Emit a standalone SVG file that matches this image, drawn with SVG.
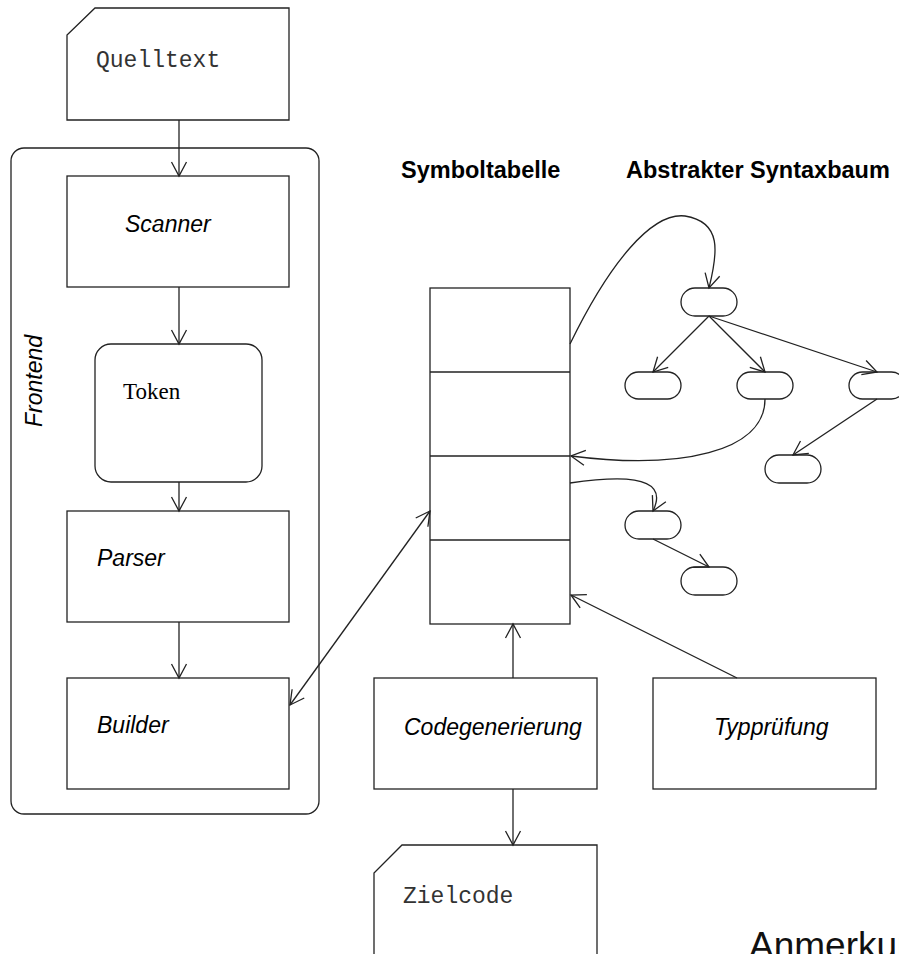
<svg xmlns="http://www.w3.org/2000/svg" width="899" height="954" viewBox="0 0 899 954">
<style>
.s{fill:#fff;stroke:#222;stroke-width:1.3}
.c{fill:none;stroke:#222;stroke-width:1.3}
.it{font-family:"Liberation Sans",Arial,sans-serif;font-style:italic;font-size:23px;fill:#000}
.b{font-family:"Liberation Sans",Arial,sans-serif;font-weight:bold;font-size:23.5px;fill:#000}
.m{font-family:"Liberation Mono","Courier New",monospace;font-size:23px;fill:#333}
.t{font-family:"Liberation Serif","Times New Roman",serif;font-size:23px;fill:#000}
</style>
<defs>
<marker id="a" viewBox="-15 -9 17 18" refX="0" refY="0" markerWidth="17" markerHeight="18" markerUnits="userSpaceOnUse" orient="auto-start-reverse">
<path d="M-14,-7.5 L0,0 L-14,7.5" fill="none" stroke="#222" stroke-width="1.3"/>
</marker>
</defs>
<rect width="899" height="954" fill="#fff"/>
<g id="frontend">
<rect class="s" x="11" y="148" width="308" height="666" rx="13"/>
<text class="it" font-size="24" transform="translate(42,427) rotate(-90)">Frontend</text>
</g>
<g id="quelltext">
<path class="s" d="M95,8 L289,8 L289,120 L67,120 L67,35 Z"/>
<text class="m" x="96" y="67">Quelltext</text>
</g>
<g id="scanner">
<rect class="s" x="67" y="176" width="222" height="111"/>
<text class="it" x="125" y="232">Scanner</text>
</g>
<g id="token">
<rect class="s" x="95" y="344" width="167" height="138" rx="16"/>
<text class="t" x="123" y="399">Token</text>
</g>
<g id="parser">
<rect class="s" x="67" y="511" width="222" height="111"/>
<text class="it" x="97" y="566">Parser</text>
</g>
<g id="builder">
<rect class="s" x="67" y="678" width="222" height="111"/>
<text class="it" x="97" y="733">Builder</text>
</g>
<g id="symboltabelle">
<text class="b" x="401" y="178">Symboltabelle</text>
<rect class="s" x="430" y="288" width="140" height="336"/>
<line class="c" x1="430" y1="372" x2="570" y2="372"/>
<line class="c" x1="430" y1="456" x2="570" y2="456"/>
<line class="c" x1="430" y1="540" x2="570" y2="540"/>
</g>
<g id="ast">
<text class="b" x="626" y="178">Abstrakter Syntaxbaum</text>
<rect id="n0" class="s" x="681" y="288" width="56" height="28" rx="14"/>
<rect id="n1" class="s" x="625" y="372" width="56" height="27" rx="13.5"/>
<rect id="n2" class="s" x="737" y="372" width="56" height="27" rx="13.5"/>
<rect id="n3" class="s" x="849" y="372" width="56" height="27" rx="13.5"/>
<rect id="n4" class="s" x="765" y="455" width="56" height="28" rx="14"/>
<rect id="n5" class="s" x="625" y="511" width="56" height="28" rx="14"/>
<rect id="n6" class="s" x="681" y="567" width="56" height="28" rx="14"/>
</g>
<g id="codegen">
<rect class="s" x="374" y="678" width="223" height="111"/>
<text class="it" x="404" y="735">Codegenerierung</text>
</g>
<g id="typpruefung">
<rect class="s" x="653" y="678" width="223" height="111"/>
<text class="it" x="714" y="735">Typprüfung</text>
</g>
<g id="zielcode">
<path class="s" d="M402,845 L597,845 L597,960 L374,960 L374,873 Z"/>
<text class="m" x="403" y="903">Zielcode</text>
</g>
<g id="anmerkung">
<text x="749" y="958" font-family="Liberation Sans,Arial,sans-serif" font-size="37" fill="#111">Anmerkung</text>
</g>
<g id="connectors" class="c">
<line class="c" x1="179" y1="120" x2="179" y2="176" marker-end="url(#a)"/>
<line class="c" x1="179" y1="287" x2="179" y2="344" marker-end="url(#a)"/>
<line class="c" x1="179" y1="482" x2="179" y2="511" marker-end="url(#a)"/>
<line class="c" x1="179" y1="622" x2="179" y2="678" marker-end="url(#a)"/>
<line class="c" x1="290" y1="705" x2="430" y2="511" marker-start="url(#a)" marker-end="url(#a)"/>
<line class="c" x1="513" y1="678" x2="513" y2="624" marker-end="url(#a)"/>
<line class="c" x1="513" y1="789" x2="513" y2="845" marker-end="url(#a)"/>
<line class="c" x1="737" y1="678" x2="571" y2="595" marker-end="url(#a)"/>
<path class="c" d="M570,344 C610,262 652,212 685,216 C722,222 718,252 709,288" marker-end="url(#a)"/>
<line class="c" x1="709" y1="316" x2="653" y2="372" marker-end="url(#a)"/>
<line class="c" x1="709" y1="316" x2="765" y2="372" marker-end="url(#a)"/>
<line class="c" x1="709" y1="316" x2="877" y2="372" marker-end="url(#a)"/>
<line class="c" x1="877" y1="399" x2="793" y2="455" marker-end="url(#a)"/>
<path class="c" d="M765,399 C765,452 680,470 571,456" marker-end="url(#a)"/>
<path class="c" d="M570,483 C612,477 672,472 653,511" marker-end="url(#a)"/>
<line class="c" x1="653" y1="539" x2="709" y2="567" marker-end="url(#a)"/>
</g>
</svg>
